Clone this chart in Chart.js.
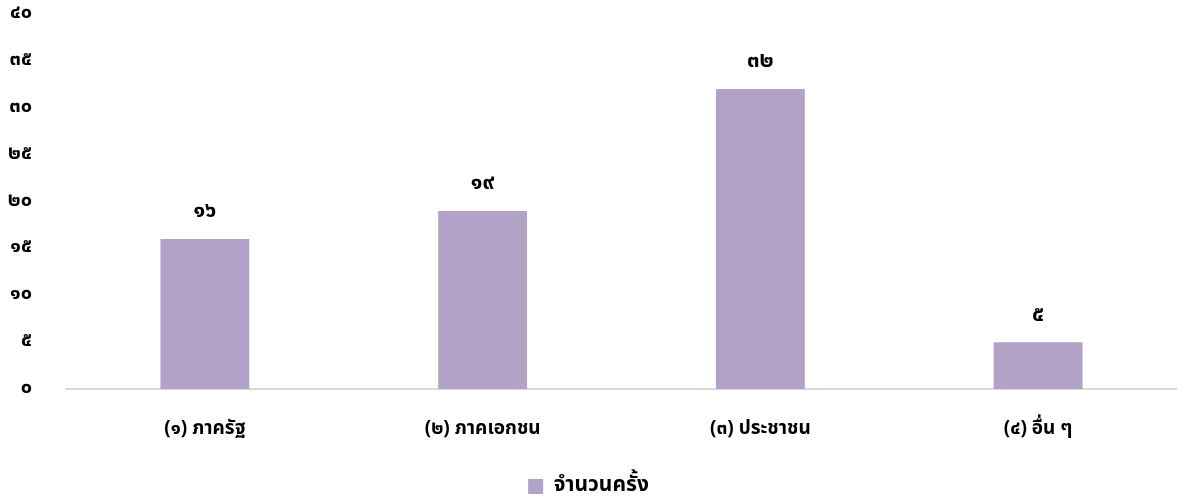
<!DOCTYPE html>
<html lang="th">
<head>
  <meta charset="UTF-8" />
  <title>จำนวนครั้ง</title>
  <script src="https://cdn.jsdelivr.net/npm/chart.js"></script>
  <style>
    html, body { margin: 0; padding: 0; background: #fff; }
    #wrap { width: 1177px; height: 497px; }
  </style>
</head>
<body>
  <div id="wrap"><canvas id="chart"></canvas></div>
  <script>
    // data
    const categories = ['(๑) ภาครัฐ', '(๒) ภาคเอกชน', '(๓) ประชาชน', '(๔) อื่น ๆ'];
    const seriesLabel = 'จำนวนครั้ง';
    const counts = [16, 19, 32, 5];
    const yMax = 40;
    const yStep = 5;

    const thaiDigits = ['๐', '๑', '๒', '๓', '๔', '๕', '๖', '๗', '๘', '๙'];
    function toThai(n) {
      return String(n).replace(/[0-9]/g, d => thaiDigits[+d]);
    }

    const fontFamily = "'Noto Sans Thai', 'Leelawadee UI', Tahoma, 'DejaVu Sans', sans-serif";
    Chart.defaults.font.family = fontFamily;
    Chart.defaults.color = '#000';

    // value labels above the bars
    const valueLabels = {
      id: 'valueLabels',
      afterDatasetsDraw(chart) {
        const ctx = chart.ctx;
        ctx.save();
        ctx.font = 'bold 22px ' + fontFamily;
        ctx.fillStyle = '#000';
        ctx.textAlign = 'center';
        ctx.textBaseline = 'middle';
        chart.getDatasetMeta(0).data.forEach((bar, i) => {
          ctx.fillText(toThai(counts[i]), bar.x, bar.y - 26);
        });
        ctx.restore();
      }
    };

    new Chart(document.getElementById('chart'), {
      type: 'bar',
      data: {
        labels: categories,
        datasets: [{
          label: seriesLabel,
          data: counts,
          backgroundColor: '#b3a2c7',
          barPercentage: 0.64,
          categoryPercentage: 0.5
        }]
      },
      options: {
        responsive: true,
        maintainAspectRatio: false,
        animation: false,
        layout: { padding: { top: 0, left: 0, right: 0, bottom: -10 } },
        scales: {
          x: {
            afterFit(scale) { scale.height = 79; },
            grid: { display: false },
            border: { display: true, color: '#d9d9d9', width: 2 },
            ticks: { padding: 22, font: { size: 19, weight: 'bold' } }
          },
          y: {
            min: 0,
            max: yMax,
            afterFit(scale) {
              scale.width = 66;
              scale.paddingTop = 14;
              scale.paddingBottom = 0;
            },
            grid: { display: false },
            border: { display: false },
            ticks: {
              stepSize: yStep,
              padding: 26,
              font: { size: 20, weight: 'bold' },
              callback: v => toThai(v)
            }
          }
        },
        plugins: {
          legend: {
            position: 'bottom',
            labels: {
              boxWidth: 15,
              boxHeight: 15,
              padding: 8,
              font: { size: 21, weight: 'bold' }
            }
          },
          tooltip: { enabled: false }
        }
      },
      plugins: [valueLabels]
    });
  </script>
</body>
</html>
